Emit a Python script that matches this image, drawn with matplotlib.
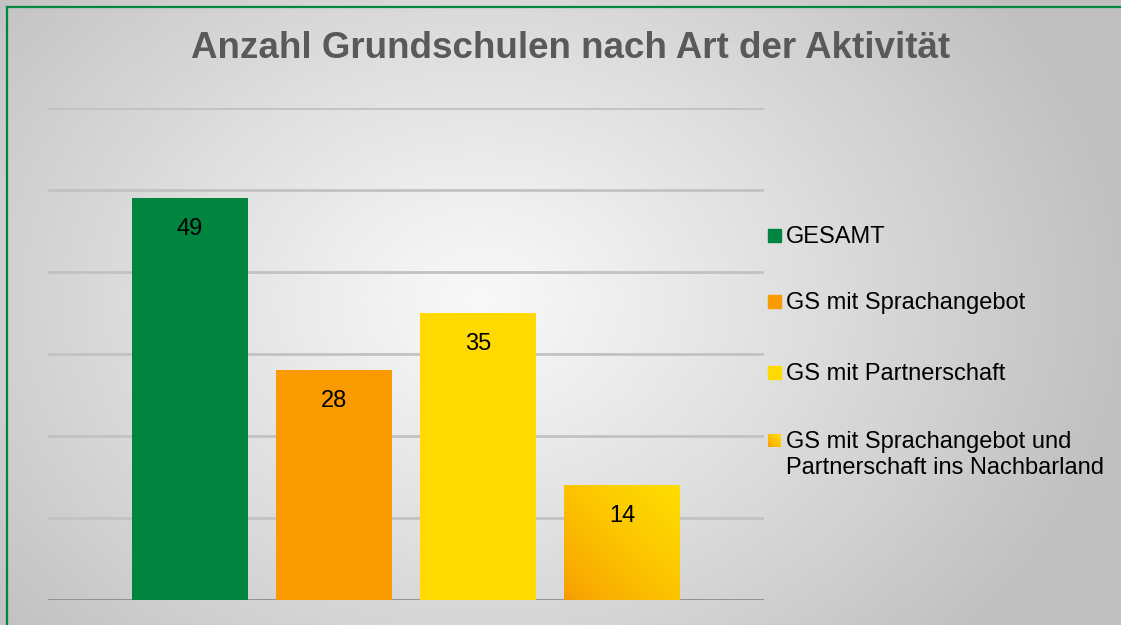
import numpy as np
import matplotlib
matplotlib.use("Agg")
import matplotlib.pyplot as plt
from matplotlib.patches import Rectangle
from matplotlib.lines import Line2D

# ---- data ----
series = ["GESAMT", "GS mit Sprachangebot", "GS mit Partnerschaft",
          "GS mit Sprachangebot und\nPartnerschaft ins Nachbarland"]
values = [49, 28, 35, 14]
colors = ["#00843F", "#F99B00", "#FFDA00", None]  # None -> gradient
title = "Anzahl Grundschulen nach Art der Aktivität"
y_ticks = [0, 10, 20, 30, 40, 50, 60]

W, H = 1121, 625
fig = plt.figure(figsize=(W / 100, H / 100), dpi=100)

# ---- background radial gradient ----
bg = fig.add_axes([0, 0, 1, 1], zorder=-10)
yy, xx = np.mgrid[0:H, 0:W]
cx, cy = 480, 300
r = np.sqrt(((xx - cx) / 1.15) ** 2 + ((yy - cy) / 0.9) ** 2)
t = np.clip(r / 560.0, 0, 1)
g = 0.975 - (0.975 - 0.755) * t ** 1.1
bg.imshow(np.dstack([g, g, g]), aspect="auto", extent=[0, W, H, 0])
bg.set_xlim(0, W)
bg.set_ylim(H, 0)
bg.axis("off")

# green frame (top and left)
fig.add_artist(Line2D([6.5 / W, 6.5 / W], [0, 1 - 6.5 / H], color="#00873E", lw=1.6,
                      transform=fig.transFigure))
fig.add_artist(Line2D([6.5 / W, 1.01], [1 - 6.5 / H, 1 - 6.5 / H], color="#00873E", lw=1.6,
                      transform=fig.transFigure))

# ---- plot axes ----
left, right, top, bottom = 48, 764, 108, 600
ax = fig.add_axes([left / W, 1 - bottom / H, (right - left) / W, (bottom - top) / H])
ax.patch.set_alpha(0)
x = np.arange(len(values))
bw = 116 / 144

for yv in y_ticks[1:]:
    ax.axhline(yv, color="#C2C2C2", lw=2.0, zorder=1)
ax.axhline(0, color="#8C8C8C", lw=2.0, zorder=1)

bars = ax.bar(x, values, width=bw, color=[c if c else "#FFC000" for c in colors],
              zorder=2)

# gradient (orange bottom-left -> yellow top-right)
grad_n = 200
gx, gy = np.meshgrid(np.linspace(0, 1, grad_n), np.linspace(0, 1, grad_n))
tt = np.clip((gx + gy) / 2, 0, 1) ** 0.7
c0 = np.array([0xF7, 0x98, 0x00]) / 255.0
c1 = np.array([0xFF, 0xDE, 0x00]) / 255.0
grad_img = c0[None, None, :] * (1 - tt[..., None]) + c1[None, None, :] * tt[..., None]
for i, c in enumerate(colors):
    if c is None:
        b = bars[i]
        b.set_facecolor("none")
        x0, w0, h0 = b.get_x(), b.get_width(), b.get_height()
        im = ax.imshow(grad_img, extent=[x0, x0 + w0, 0, h0], origin="lower",
                       aspect="auto", zorder=2)
        im.set_clip_path(b)
ax.set_xlim(-142 / 144, 3 + 142 / 144)
ax.set_ylim(0, 60)

# data labels
for i, v in enumerate(values):
    ax.annotate(str(v), (x[i], v), xytext=(0, -31), textcoords="offset pixels",
                ha="center", va="center", fontsize=17, color="#000000",
                family="Liberation Sans", zorder=5)

for s in ax.spines.values():
    s.set_visible(False)
ax.set_xticks([])
ax.set_yticks([])

# ---- title ----
fig.text(571 / W, 1 - 49 / H, title, ha="center", va="center",
         fontsize=26.5, fontweight="bold", color="#595959",
         family="Liberation Sans")

# ---- legend (manual) ----
leg_y = [236, 302, 373, 441]
for i, (lab, yv) in enumerate(zip(series, leg_y)):
    if colors[i] is not None:
        fig.add_artist(Rectangle((768 / W, 1 - (yv + 6) / H), 13 / W, 13 / H,
                                 transform=fig.transFigure, color=colors[i]))
    else:
        lax = fig.add_axes([768 / W, 1 - (yv + 6) / H, 13 / W, 13 / H])
        lax.imshow(grad_img, origin="lower", aspect="auto", extent=[0, 1, 0, 1])
        lax.axis("off")
    fig.text(786 / W, 1 - (yv - 10) / H, lab, ha="left", va="top",
             fontsize=17, color="#000000", family="Liberation Sans",
             linespacing=1.22)

fig.savefig("out.png", dpi=100)
